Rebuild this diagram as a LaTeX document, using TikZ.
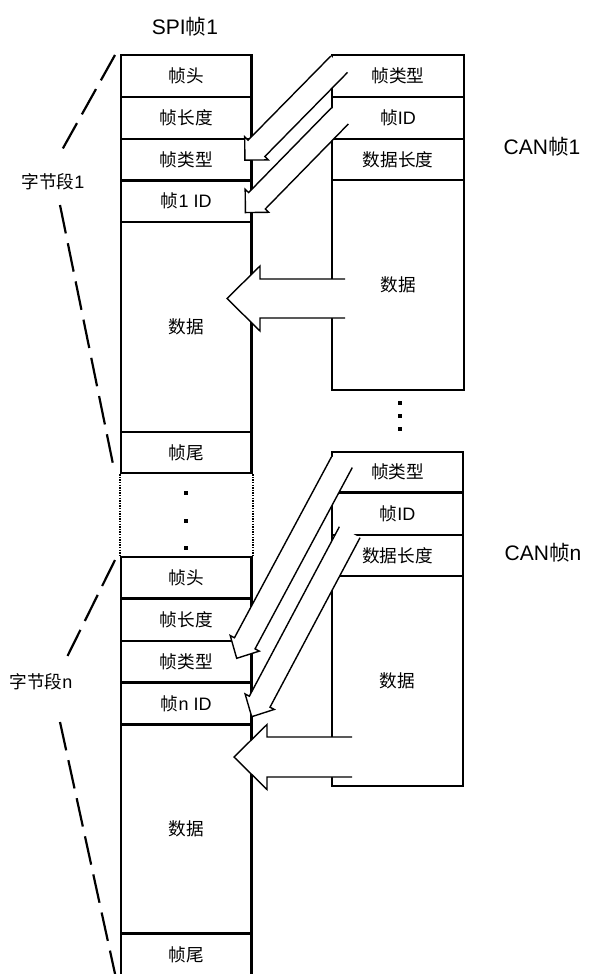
\documentclass[tikz,border=0pt]{standalone}
\usepackage{fontspec}
\setmainfont{Liberation Sans}
\newfontfamily\cjk[Scale=0.98]{Noto Sans CJK SC}
\newcommand\zh[1]{{\cjk #1}}
\newdimen\blkAx \newdimen\blkAy \newdimen\blkBx \newdimen\blkBy
\newcommand\blkarrow[5]{%
  \pgfextractx{\blkAx}{\pgfpointanchor{#1}{center}}%
  \pgfextracty{\blkAy}{\pgfpointanchor{#1}{center}}%
  \pgfextractx{\blkBx}{\pgfpointanchor{#2}{center}}%
  \pgfextracty{\blkBy}{\pgfpointanchor{#2}{center}}%
  \pgfmathsetmacro\blkAng{atan2(\blkBy-\blkAy,\blkBx-\blkAx)}%
  \pgfmathsetmacro\blkLen{veclen(\blkBx-\blkAx,\blkBy-\blkAy)}%
  \pgfmathsetmacro\blkB{\blkLen-#5}%
  \begin{scope}[shift={(#1)},rotate=\blkAng,x=1pt,y=1pt]
    \fill[white] (0,-#3) -- (\blkB,-#3) -- (\blkB,-#4) -- (\blkLen,0) -- (\blkB,#4) -- (\blkB,#3) -- (0,#3) -- cycle;
    \draw[arrline] (0,-#3) -- (\blkB,-#3) -- (\blkB,-#4) -- (\blkLen,0) -- (\blkB,#4) -- (\blkB,#3) -- (0,#3);
  \end{scope}}
\begin{document}
\begin{tikzpicture}[x=1pt,y=-1pt,
  cell/.style={draw,line width=2.4pt,inner sep=0pt,font=\fontsize{18}{20}\selectfont},
  spicell/.style={cell,minimum width=130.5pt},
  can1cell/.style={cell,minimum width=132pt},
  can2cell/.style={cell,minimum width=131pt},
  title/.style={inner sep=0pt,font=\fontsize{21}{24}\selectfont},
  side/.style={inner sep=0pt,font=\fontsize{18}{20}\selectfont},
  arrline/.style={line width=1.4pt,line join=miter},
  dashln/.style={line width=2.2pt,dash pattern=on 29pt off 10pt},
  dotln/.style={line width=1.6pt,dash pattern=on 1.4pt off 1.2pt},
  dotsq/.style={fill=black,rectangle,minimum size=3.2pt,inner sep=0pt}]
\useasboundingbox (0,0) rectangle (593,974);
\fill[white] (0,0) rectangle (593,974);

% SPI frame, first segment
\node[spicell,minimum height=42pt]   (s1a) at (186.25,76)     {\zh{帧头}};
\node[spicell,minimum height=42pt]   (s1b) at (186.25,118)    {\zh{帧长度}};
\node[spicell,minimum height=41.5pt] (s1c) at (186.25,159.75) {\zh{帧类型}};
\node[spicell,minimum height=41.5pt] (s1d) at (186.25,201.25) {\zh{帧}1 ID};
\node[spicell,minimum height=210pt]  (s1e) at (186.25,327)    {\zh{数据}};
\node[spicell,minimum height=41pt]   (s1f) at (186.25,452.5)  {\zh{帧尾}};
% SPI frame, n-th segment
\node[spicell,minimum height=41.5pt] (s2a) at (186.25,577.75) {\zh{帧头}};
\node[spicell,minimum height=42.5pt] (s2b) at (186.25,619.75) {\zh{帧长度}};
\node[spicell,minimum height=41.5pt] (s2c) at (186.25,661.75) {\zh{帧类型}};
\node[spicell,minimum height=42pt]   (s2d) at (186.25,703.5)  {\zh{帧}n ID};
\node[spicell,minimum height=209pt]  (s2e) at (186.25,829)    {\zh{数据}};
\node[spicell,minimum height=42.5pt] (s2f) at (186.25,954.75) {\zh{帧尾}};

% dotted gap
\draw[dotln] (s1f.south west) -- (s2a.north west);
\draw[dotln] (s1f.south east) -- (s2a.north east);
\node[dotsq] (m1) at (186,493) {};
\node[dotsq] (m2) at (186,521) {};
\node[dotsq] (m3) at (186,548) {};

% CAN frame 1
\node[can1cell,minimum height=42pt]  (c1a) at (398,76)    {\zh{帧类型}};
\node[can1cell,minimum height=42pt]  (c1b) at (398,118)   {\zh{帧}ID};
\node[can1cell,minimum height=41pt]  (c1c) at (398,159.5) {\zh{数据长度}};
\node[can1cell,minimum height=210pt] (c1d) at (398,285)   {\zh{数据}};
\node[dotsq] (k1) at (400,403) {};
\node[dotsq] (k2) at (400,416) {};
\node[dotsq] (k3) at (400,429) {};
% CAN frame n
\node[can2cell,minimum height=40.5pt] (c2a) at (397.5,472.25) {\zh{帧类型}};
\node[can2cell,minimum height=42.5pt] (c2b) at (397.5,513.75) {\zh{帧}ID};
\node[can2cell,minimum height=41pt]   (c2c) at (397.5,555.5)  {\zh{数据长度}};
\node[can2cell,minimum height=210pt]  (c2d) at (397.5,681)    {\zh{数据}};

% labels
\node[title] (t1) at (185,27)  {SPI\zh{帧}1};
\node[title] (t2) at (542,147) {CAN\zh{帧}1};
\node[title] (t3) at (543,553) {CAN\zh{帧}n};
\node[side]  (g1) at (53,182)  {\zh{字节段}1};
\node[side]  (g2) at (41,682)  {\zh{字节段}n};

% dashed braces
\coordinate (l1a) at (115,55);  \coordinate (l1b) at (62,150);
\coordinate (l1c) at (60,205);  \coordinate (l1d) at (114,469);
\coordinate (l2a) at (115,560); \coordinate (l2b) at (67,657);
\coordinate (l2c) at (60,722);  \coordinate (l2d) at (115.5,976);
\draw[dashln] (l1a) -- (l1b);
\draw[dashln] (l1c) -- (l1d);
\draw[dashln] (l2a) -- (l2b);
\draw[dashln] (l2c) -- (l2d);

% block arrows (tail centre, tip)
\coordinate (a1t) at (339.2,64.2);  \coordinate (a1h) at (244.5,160.5);
\coordinate (a2t) at (340,115.8);   \coordinate (a2h) at (245,213);
\coordinate (a3t) at (345,298.5);   \coordinate (a3h) at (227,298.5);
\coordinate (a4t) at (342,462);     \coordinate (a4h) at (236.7,658.3);
\coordinate (a5t) at (349.7,532.2); \coordinate (a5h) at (251.7,716.7);
\coordinate (a6t) at (352,757);     \coordinate (a6h) at (234,757);
\blkarrow{a1t}{a1h}{11.7}{16.5}{16.5}
\blkarrow{a2t}{a2h}{11.7}{16.5}{16.5}
\blkarrow{a3t}{a3h}{19.5}{32.5}{33}
\blkarrow{a4t}{a4h}{11.7}{16.5}{17}
\blkarrow{a5t}{a5h}{11.7}{16.5}{17}
\blkarrow{a6t}{a6h}{20}{32.5}{33}
\end{tikzpicture}
\end{document}
